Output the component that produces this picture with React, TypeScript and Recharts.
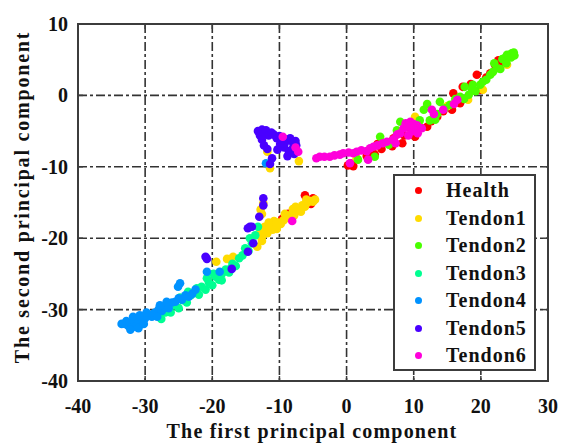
import React from 'react';
import {
  ScatterChart,
  Scatter,
  XAxis,
  YAxis,
  CartesianGrid,
  ReferenceArea,
  Legend,
} from 'recharts';

const xTicks = [-40, -30, -20, -10, 0, 10, 20, 30];
const yTicks = [-40, -30, -20, -10, 0, 10];

const seriesNames = ['Health', 'Tendon1', 'Tendon2', 'Tendon3', 'Tendon4', 'Tendon5', 'Tendon6'];
const seriesColors = ['#ff0000', '#ffdb00', '#49ff00', '#00ff92', '#0092ff', '#4900ff', '#ff00db'];

// [first PC, second PC]
const health = [
  [0.2, -9.8], [0.6, -9.5], [1.0, -9.9], [3.0, -8.5], [3.4, -8.0], [3.8, -7.7], [4.2, -8.3],
  [4.6, -6.8], [5.2, -7.5], [6.2, -6.6], [7.0, -6.0], [8.3, -6.7], [8.6, -5.6], [9.5, -4.6],
  [11.0, -4.5], [12.0, -4.4], [12.6, -3.6], [13.5, -3.0], [14.4, -2.2], [15.7, -2.0], [15.9, 0.3],
  [16.9, -1.1], [17.3, 1.2], [18.5, 1.6], [19.4, 2.9], [19.9, 0.8], [20.8, 2.5], [21.4, 3.1],
  [22.1, 4.3], [22.6, 4.9], [23.3, 4.7], [10.2, -5.8], [6.8, -7.1],
  [-6.2, -14.0], [-5.0, -14.4], [-5.3, -15.2], [-9.6, -17.3], [-8.7, -16.6],
];

const tendon1 = [
  [-13.0, -19.6], [-12.6, -19.8], [-12.2, -19.0], [-11.8, -19.3], [-11.4, -18.6], [-11.0, -18.8],
  [-10.6, -18.2], [-10.2, -17.8], [-9.8, -18.0], [-9.4, -17.5], [-9.0, -17.2], [-8.6, -17.0],
  [-8.2, -16.6], [-7.8, -16.8], [-7.4, -16.2], [-7.0, -15.9], [-6.6, -15.4], [-6.2, -15.6],
  [-5.8, -15.0], [-5.4, -14.8], [-5.0, -14.9], [-4.7, -14.6], [-6.8, -16.3], [-7.6, -15.6],
  [-10.8, -17.6], [-12.2, -18.4], [-11.6, -17.8], [-9.2, -16.6], [-8.0, -15.9], [-10.4, -18.7],
  [-6.0, -14.6], [-12.8, -19.0],
  [-12.4, -15.1], [-12.8, -16.0], [-12.6, -16.6],
  [-19.4, -23.3], [-17.8, -22.9], [-16.9, -22.6], [-13.3, -21.2], [-12.6, -20.4],
  [-7.1, -9.2], [-11.4, -10.2], [-11.8, -7.9],
  [1.5, -8.8], [10.2, -3.0], [18.1, -0.6], [20.3, 0.8], [23.9, 4.3], [15.0, -1.5],
];

const tendon2 = [
  [1.7, -9.0], [4.2, -8.6], [5.0, -5.8], [6.3, -6.9], [7.5, -4.9], [8.0, -3.7], [9.9, -4.6],
  [10.9, -3.5], [11.5, -2.0], [12.0, -1.2], [12.4, -3.5], [13.5, -2.6], [13.9, -0.9], [14.6, -1.8],
  [15.4, -1.3], [16.2, -0.5], [16.9, -0.2], [17.5, -0.5], [17.6, 1.2], [18.2, 0.1], [18.7, 0.8],
  [18.8, 1.5], [19.2, 0.6], [19.9, 1.5], [20.3, 1.9], [20.8, 2.2], [21.4, 2.9], [21.8, 3.3],
  [22.4, 3.8], [22.9, 3.7], [23.2, 5.1], [23.5, 5.2], [23.8, 4.5], [23.9, 5.7], [24.2, 5.5],
  [24.5, 5.3], [24.6, 5.9], [24.9, 6.0], [25.0, 5.6], [22.0, 4.5], [13.2, -3.4],
];

const tendon3 = [
  [-27.6, -31.3], [-27.0, -30.4], [-26.2, -30.4], [-25.6, -29.4], [-25.0, -29.8], [-24.4, -28.7],
  [-23.8, -29.0], [-23.2, -28.0], [-22.6, -27.6], [-22.0, -27.9], [-21.6, -26.8], [-21.0, -27.2],
  [-20.5, -26.2], [-20.0, -26.6], [-19.5, -25.4], [-19.0, -25.8], [-18.5, -24.9], [-18.0, -24.4],
  [-17.5, -24.8], [-17.0, -23.6], [-16.5, -23.9], [-16.0, -22.8], [-15.5, -22.4], [-15.1, -21.4],
  [-14.6, -21.8], [-14.1, -20.7], [-14.4, -20.0], [-13.6, -19.6], [-13.2, -18.4], [-22.3, -27.0],
  [-24.8, -28.3], [-20.8, -25.6], [-18.6, -25.9], [-23.6, -27.5], [-19.8, -25.0], [-17.2, -24.2],
];

const tendon4 = [
  [-33.0, -32.0], [-32.5, -32.3], [-32.0, -31.8], [-31.5, -32.4], [-31.0, -31.5], [-30.5, -31.8],
  [-30.0, -31.2], [-29.5, -30.8], [-29.0, -31.0], [-28.5, -30.4], [-28.0, -30.0], [-27.5, -30.2],
  [-27.0, -29.6], [-26.5, -29.8], [-26.0, -29.0], [-25.5, -28.9], [-25.0, -28.4], [-24.5, -28.6],
  [-24.0, -28.0], [-23.5, -28.2], [-23.0, -27.8], [-22.5, -27.2], [-32.8, -31.6], [-31.8, -31.0],
  [-30.8, -30.8], [-29.8, -30.4], [-28.8, -30.6], [-27.8, -29.4], [-26.8, -28.9], [-33.5, -32.0],
  [-32.2, -32.8], [-31.0, -32.6], [-30.2, -32.0], [-28.2, -31.0],
  [-24.8, -26.3], [-25.1, -26.8], [-20.8, -24.7], [-18.9, -24.7], [-12.0, -9.5],
];

const tendon5 = [
  [-13.2, -5.0], [-12.9, -5.6], [-12.6, -4.8], [-12.2, -5.4], [-12.0, -4.9], [-11.6, -5.6],
  [-11.2, -5.2], [-10.8, -5.5], [-10.4, -6.0], [-10.0, -5.7], [-9.6, -6.0], [-9.0, -6.2],
  [-8.4, -6.0], [-8.0, -6.6], [-7.6, -6.4], [-7.5, -7.0], [-8.0, -7.4], [-8.6, -7.8],
  [-9.3, -7.3], [-9.2, -6.7], [-9.9, -6.8], [-10.3, -7.6], [-12.6, -6.2], [-12.3, -7.0],
  [-11.8, -7.5], [-8.8, -8.5], [-7.8, -8.2], [-11.1, -8.8], [-11.4, -9.6],
  [-12.4, -14.4], [-12.4, -15.4], [-13.0, -17.0], [-14.1, -18.4], [-14.7, -18.6], [-14.4, -18.4],
  [-13.9, -20.7], [-14.7, -21.9], [-17.1, -24.3], [-20.8, -22.9], [-21.0, -22.6],
];

const tendon6 = [
  [-4.5, -8.8], [-4.0, -8.6], [-3.3, -8.6], [-2.5, -8.6], [-1.8, -8.4], [-1.0, -8.3], [-0.5, -8.1],
  [0.3, -8.0], [1.0, -8.1], [1.5, -7.9], [2.2, -7.7], [3.0, -7.8], [3.5, -7.4], [3.2, -9.0],
  [4.0, -7.2], [4.6, -7.0], [5.4, -6.7], [6.0, -6.5], [6.9, -6.2], [7.5, -5.5], [7.3, -6.7],
  [8.0, -5.3], [8.5, -4.6], [9.0, -4.4], [9.5, -3.7], [9.8, -5.0], [10.0, -4.0], [10.5, -4.2],
  [10.6, -5.3], [11.2, -4.6], [12.7, -2.0], [13.0, -2.6], [14.4, -2.0], [16.0, -1.2], [16.5, -0.6],
  [0.5, -9.5], [-8.1, -17.6], [-9.5, -5.8], [-7.2, -7.9], [-7.6, -7.3], [9.2, -5.6], [8.8, -3.9],
];

const seriesPoints = [health, tendon1, tendon2, tendon3, tendon4, tendon5, tendon6];

const PLOT_LEFT = 78;
const PLOT_RIGHT = 548;
const PLOT_TOP = 24;
const PLOT_BOTTOM = 381;
const FONT = '"Liberation Serif", "Times New Roman", serif';
const AXIS_COLOR = '#3c3c3c';

const XTick = (props: any) => {
  const { x, payload } = props;
  return (
    <g>
      <line x1={x} x2={x} y1={PLOT_BOTTOM} y2={PLOT_BOTTOM - 5} stroke={AXIS_COLOR} strokeWidth={1.5} />
      <line x1={x} x2={x} y1={PLOT_TOP} y2={PLOT_TOP + 5} stroke={AXIS_COLOR} strokeWidth={1.5} />
      <text x={x} y={413} textAnchor="middle" fontFamily={FONT} fontWeight="bold" fontSize={20} fill="#111">
        {payload.value}
      </text>
    </g>
  );
};

const YTick = (props: any) => {
  const { y, payload } = props;
  return (
    <g>
      <line x1={PLOT_LEFT} x2={PLOT_LEFT + 5} y1={y} y2={y} stroke={AXIS_COLOR} strokeWidth={1.5} />
      <line x1={PLOT_RIGHT} x2={PLOT_RIGHT - 5} y1={y} y2={y} stroke={AXIS_COLOR} strokeWidth={1.5} />
      <text x={68} y={y + 7} textAnchor="end" fontFamily={FONT} fontWeight="bold" fontSize={20} fill="#111">
        {payload.value}
      </text>
    </g>
  );
};

const Dot = (props: any) => <circle cx={props.cx} cy={props.cy} r={4.3} fill={props.fill} />;

const LegendBox = (props: any) => {
  const { payload } = props;
  return (
    <div
      style={{
        width: 143,
        height: 197,
        boxSizing: 'border-box',
        border: `2px solid ${AXIS_COLOR}`,
        background: '#fff',
        paddingTop: 1,
      }}
    >
      {payload.map((entry: any) => (
        <div key={entry.value} style={{ height: 27.5, display: 'flex', alignItems: 'center' }}>
          <span
            style={{
              display: 'inline-block',
              width: 7,
              height: 7,
              borderRadius: '50%',
              background: entry.color,
              marginLeft: 20,
              marginRight: 24,
            }}
          />
          <span style={{ fontFamily: FONT, fontWeight: 'bold', fontSize: 20, letterSpacing: 1, color: '#111' }}>
            {entry.value}
          </span>
        </div>
      ))}
    </div>
  );
};

export default function App() {
  return (
    <div style={{ position: 'absolute', left: 0, top: 0, width: 561, height: 445, background: '#fff' }}>
      <ScatterChart width={561} height={445} margin={{ top: 24, right: 13, bottom: 0, left: 0 }}>
        <CartesianGrid stroke="#333" strokeWidth={1.6} strokeDasharray="9 3 3 3" />
        <XAxis
          type="number"
          dataKey="x"
          domain={[-40, 30]}
          ticks={xTicks}
          height={64}
          axisLine={false}
          tickLine={false}
          tick={<XTick />}
          interval={0}
          allowDataOverflow
          label={{
            content: () => (
              <text x={312} y={438} textAnchor="middle" fontFamily={FONT} fontWeight="bold" fontSize={20}
                letterSpacing={1.2} fill="#111">
                The first principal component
              </text>
            ),
          }}
        />
        <YAxis
          type="number"
          dataKey="y"
          domain={[-40, 10]}
          ticks={yTicks}
          width={78}
          axisLine={false}
          tickLine={false}
          tick={<YTick />}
          interval={0}
          allowDataOverflow
          label={{
            content: () => (
              <text x={22} y={197} transform="rotate(-90 22 197)" textAnchor="middle" dominantBaseline="central"
                fontFamily={FONT} fontWeight="bold" fontSize={20} letterSpacing={1.8} fill="#111">
                The second principal component
              </text>
            ),
          }}
        />
        {seriesPoints.map((pts, i) => (
          <Scatter
            key={seriesNames[i]}
            name={seriesNames[i]}
            data={pts.map(([x, y]) => ({ x, y }))}
            fill={seriesColors[i]}
            shape={<Dot />}
            isAnimationActive={false}
          />
        ))}
        <ReferenceArea x1={-40} x2={30} y1={-40} y2={10} fill="none" stroke={AXIS_COLOR} strokeWidth={2} />
        <Legend
          layout="vertical"
          align="center"
          verticalAlign="middle"
          wrapperStyle={{ left: 393, top: 174, width: 143, height: 197 }}
          content={<LegendBox />}
        />
      </ScatterChart>
    </div>
  );
}
